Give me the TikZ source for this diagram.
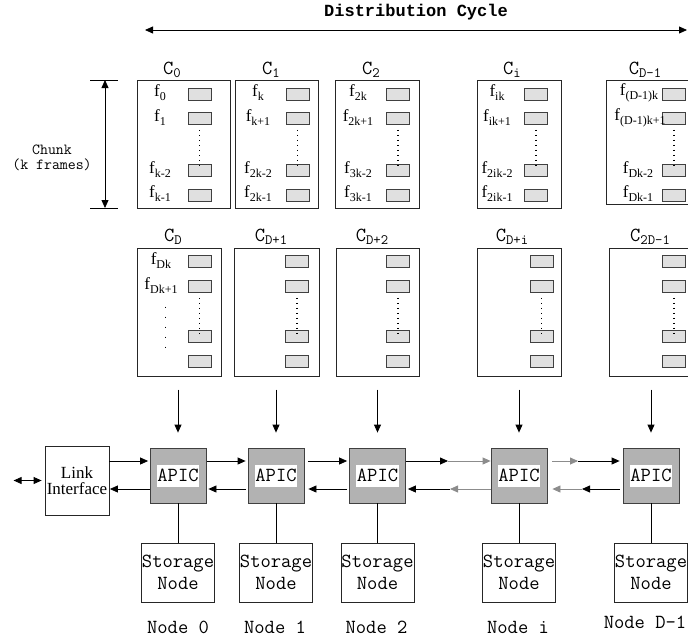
\documentclass[tikz,border=0pt]{standalone}
\usepackage{fontspec}
\setmainfont{Liberation Serif}
\newfontfamily\titlefont{Liberation Mono}
\usetikzlibrary{arrows.meta,calc}

% frame label f_{...} and chunk label C_{...}
\newcommand\fr[1]{f\raisebox{-4pt}{\fontsize{12}{12}\selectfont #1}}
\newcommand\ch[1]{\texttt{C\raisebox{-3pt}{\fontsize{14.3}{14.3}\selectfont #1}}}

\begin{document}
\begin{tikzpicture}[x=1pt,y=-1pt,
  line width=0.8pt,
  tip/.tip={Triangle[length=8pt,width=7pt]},
  arr/.style={-tip},
  chunkbox/.style={draw=black!85,inner sep=0pt,minimum height=128pt},
  frame/.style={draw=black!75,fill=black!12,minimum width=23pt,minimum height=12pt,inner sep=0pt},
  vdots/.style={line width=1.4pt,dash pattern=on 1.5pt off 3.5pt},
  wdots/.style={line width=1.4pt,dash pattern=on 1.5pt off 8.5pt},
  flab/.style={font=\fontsize{17}{17}\selectfont,inner sep=0pt},
  clab/.style={font=\fontsize{20}{20}\selectfont,inner sep=0pt},
  apic/.style={draw=black!75,fill=black!30,minimum width=56pt,minimum height=55pt,inner sep=0pt},
  apictxt/.style={fill=white,font=\ttfamily\fontsize{20}{20}\selectfont,inner xsep=0.5pt,inner ysep=0pt,minimum height=22pt},
  store/.style={draw=black!85,minimum width=73pt,minimum height=59pt,inner sep=0pt,align=center,font=\ttfamily\fontsize{20}{22}\selectfont},
  nlab/.style={font=\ttfamily\fontsize{20}{20}\selectfont,inner sep=0pt},
  graylink/.style={draw=black!45,-{Triangle[length=8pt,width=7pt,fill=black!45]}},
]
\useasboundingbox (0,0) rectangle (688,637);
\clip (0,0) rectangle (688,637);

% ---- distribution cycle ----
\node[font=\titlefont\bfseries\fontsize{17}{17}\selectfont,inner sep=0pt] (title) at (416,12) {Distribution Cycle};
\coordinate (cycL) at (145,30);
\coordinate (cycR) at (687,30);
\draw[tip-tip] (cycL) -- (cycR);

% ---- first row of chunks ----
\node[chunkbox,minimum width=93pt] (c0) at (183.5,144) {};
\node[chunkbox,minimum width=83pt] (c1) at (276.5,144) {};
\node[chunkbox,minimum width=84pt] (c2) at (377,144) {};
\node[chunkbox,minimum width=84pt] (ci) at (519,144) {};
\node[chunkbox,minimum width=90pt,minimum height=124pt] (cd) at (651,142) {};

\foreach \b/\rx in {c0/199.5,c1/297.5,c2/398,ci/536,cd/674}{
  \foreach \yy [count=\k] in {94,118.5,170.5,195}
    \node[frame] (\b-f\k) at (\rx,\yy) {};
  \draw[vdots] (\b-f2.south) ++(0,5) -- ($(\b-f3.north)+(0,3)$);
}

\node[clab] (lc0) at (172,70) {\ch{0}};
\node[clab] (lc1) at (271,70) {\ch{1}};
\node[clab] (lc2) at (371,70) {\ch{2}};
\node[clab] (lci) at (512,70) {\ch{i}};
\node[clab] (lcd) at (645,70) {\ch{D-1}};

\node[flab] (f00) at (160,93) {\fr{0}};
\node[flab] (f01) at (160,117.5) {\fr{1}};
\node[flab] (f02) at (160,169.5) {\fr{k-2}};
\node[flab] (f03) at (160,194) {\fr{k-1}};

\node[flab] (f10) at (258,93) {\fr{k}};
\node[flab] (f11) at (258,117.5) {\fr{k+1}};
\node[flab] (f12) at (258,169.5) {\fr{2k-2}};
\node[flab] (f13) at (258,194) {\fr{2k-1}};

\node[flab] (f20) at (358,93) {\fr{2k}};
\node[flab] (f21) at (358,117.5) {\fr{2k+1}};
\node[flab] (f22) at (358,169.5) {\fr{3k-2}};
\node[flab] (f23) at (358,194) {\fr{3k-1}};

\node[flab] (fi0) at (497,93) {\fr{ik}};
\node[flab] (fi1) at (497,117.5) {\fr{ik+1}};
\node[flab] (fi2) at (497,169.5) {\fr{2ik-2}};
\node[flab] (fi3) at (497,194) {\fr{2ik-1}};

\node[flab] (fd0) at (639,93) {\fr{(D-1)k}};
\node[flab] (fd1) at (640,117.5) {\fr{(D-1)k+1}};
\node[flab] (fd2) at (638,169.5) {\fr{Dk-2}};
\node[flab] (fd3) at (638,194) {\fr{Dk-1}};

% chunk height dimension
\coordinate (chT) at (105,80);
\coordinate (chB) at (105,208);
\draw (90,80) -- (118,80);
\draw (90,208) -- (118,208);
\draw[tip-tip] (chT) -- (chB);
\node[align=center,font=\ttfamily\fontsize{15.4}{15}\selectfont,inner sep=0pt] (chunk) at (52,158) {Chunk\\(k frames)};

% ---- second row of chunks ----
\node[chunkbox,minimum width=84pt] (e0) at (179,312) {};
\node[chunkbox,minimum width=85pt] (e1) at (276.5,312) {};
\node[chunkbox,minimum width=83pt] (e2) at (377.5,312) {};
\node[chunkbox,minimum width=84pt] (ei) at (519,312) {};
\node[chunkbox,minimum width=90pt] (ed) at (654,312) {};

\foreach \b/\rx in {e0/199.5,e1/297,e2/398,ei/541.5,ed/674}{
  \foreach \yy [count=\k] in {261.5,286.5,336.5,361.5}
    \node[frame] (\b-f\k) at (\rx,\yy) {};
  \draw[vdots] (\b-f2.south) ++(0,5) -- ($(\b-f3.north)+(0,3)$);
}
\draw[wdots] (165.7,306.5) -- (165.7,350);

\node[clab] (le0) at (173,237) {\ch{D}};
\node[clab] (le1) at (271,237) {\ch{D+1}};
\node[clab] (le2) at (372,237) {\ch{D+2}};
\node[clab] (lei) at (512,237) {\ch{D+i}};
\node[clab] (led) at (650,237) {\ch{2D-1}};

\node[flab] (g00) at (161,260.5) {\fr{Dk}};
\node[flab] (g01) at (161,285.5) {\fr{Dk+1}};

% ---- APIC chain ----
\node[apic] (a0) at (178,475.5) {};
\node[apic] (a1) at (276,475.5) {};
\node[apic] (a2) at (377.5,475.5) {};
\node[apic] (ai) at (519,475.5) {};
\node[apic] (aD) at (651,475.5) {};
\foreach \a in {a0,a1,a2,ai,aD}{
  \node[apictxt] (\a-t) at (\a) {APIC};
  \draw[arr] ([yshift=58pt]\a.north) -- ([yshift=15pt]\a.north);
}

\node[draw=black!85,minimum width=64pt,minimum height=69pt,inner sep=0pt,align=center,
      font=\fontsize{17}{16}\selectfont] (link) at (77,480.5) {Link\\Interface};
\draw[tip-tip] ([xshift=-31pt]link.west) -- ([xshift=-3pt]link.west);

% upper (outbound) and lower (return) lanes
\foreach \a in {a0,a1,a2,ai,aD}{
  \coordinate (\a-up) at ([yshift=14.5pt]\a.west);
  \coordinate (\a-lo) at ([yshift=-13.5pt]\a.west);
  \coordinate (\a-upE) at ([yshift=14.5pt]\a.east);
  \coordinate (\a-loE) at ([yshift=-13.5pt]\a.east);
}
\draw[arr,shorten >=1.5pt] (link.east |- a0-up) -- (a0-up);
\draw[arr,shorten >=0.5pt] (a0-lo) -- (link.east |- a0-lo);
\draw[arr,shorten <=1pt,shorten >=2pt] (a0-upE) -- (a1-up);
\draw[arr,shorten <=2pt,shorten >=2pt] (a1-lo) -- (a0-loE);
\draw[arr,shorten <=4pt,shorten >=2pt] (a1-upE) -- (a2-up);
\draw[arr,shorten <=2pt,shorten >=4pt] (a2-lo) -- (a1-loE);

% middle gaps, drawn half black and half grey
\coordinate (m1u) at (448,461);
\coordinate (m1l) at (450,489);
\coordinate (m2u) at (578,461);
\coordinate (m2l) at (582,489);
\draw[arr] (a2-upE) -- (m1u);
\draw[graylink] (m1u) -- (ai-up);
\draw[graylink] (ai-lo) -- (m1l);
\draw[arr] (m1l) -- ([xshift=2pt]a2-loE);
\draw[graylink,shorten <=5pt] (ai-upE) -- (m2u);
\draw[arr,shorten >=3pt] (m2u) -- (aD-up);
\draw[arr,shorten <=3pt] (aD-lo) -- (m2l);
\draw[graylink] (m2l) -- ([xshift=5pt]ai-loE);

% ---- storage nodes ----
\foreach \a/\n/\lab/\ly/\lx in {a0/s0/Node 0/627/178,a1/s1/Node 1/627/275,a2/s2/Node 2/627/376.5,ai/si/Node i/627/518,aD/sD/Node D-1/622/645}{
  \node[store] (\n) at (\a |- 0,572.5) {Storage\\Node};
  \draw (\a.south) -- (\n.north);
  \node[nlab] (\n-l) at (\lx,\ly) {\lab};
}
\end{tikzpicture}
\end{document}
